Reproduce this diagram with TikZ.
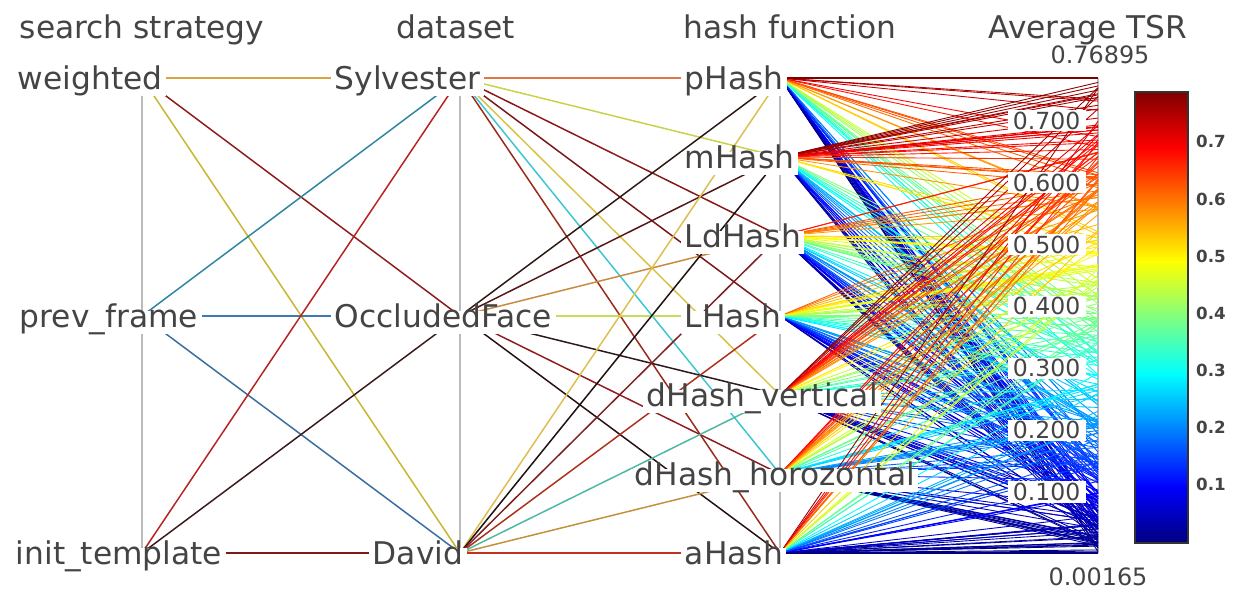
\documentclass[tikz,border=0pt]{standalone}
\usepackage{fontspec}
\setmainfont{DejaVu Sans}
\usetikzlibrary{calc}

\definecolor{txt}{HTML}{444444}
\definecolor{axgray}{HTML}{BBBBBB}
% search strategy -> dataset
\definecolor{wsy}{HTML}{D8A540}
\definecolor{wof}{HTML}{8E1C1C}
\definecolor{wdv}{HTML}{C9B52E}
\definecolor{psy}{HTML}{2E86A0}
\definecolor{pof}{HTML}{3D7BB5}
\definecolor{pdv}{HTML}{3A6E9E}
\definecolor{isy}{HTML}{B82222}
\definecolor{iof}{HTML}{3A1C1C}
\definecolor{idv}{HTML}{7F1818}
\definecolor{jtop}{rgb}{0.5,0,0}
\definecolor{jbot}{rgb}{0,0,0.5}

% value -> jet colour, stored as lncol
\newcommand{\jetcol}[1]{%
  \pgfmathsetmacro\jt{(#1-0.00165)/0.7673}%
  \pgfmathsetmacro\jr{max(0,min(1,1.5-abs(4*\jt-3)))}%
  \pgfmathsetmacro\jg{max(0,min(1,1.5-abs(4*\jt-2)))}%
  \pgfmathsetmacro\jb{max(0,min(1,1.5-abs(4*\jt-1)))}%
  \definecolor{lncol}{rgb}{\jr,\jg,\jb}}

\pgfdeclareverticalshading{jetbar}{100bp}{rgb(0bp)=(0,0,0.5); rgb(25bp)=(0,0,0.5);
  rgb(31.25bp)=(0,0,1); rgb(43.75bp)=(0,1,1); rgb(56.25bp)=(1,1,0);
  rgb(68.75bp)=(1,0,0); rgb(75bp)=(0.5,0,0); rgb(100bp)=(0.5,0,0)}

\begin{document}
\begin{tikzpicture}[x=0.02cm, y=-0.02cm,
    lbl/.style={anchor=base west, fill=white, inner xsep=2pt, inner ysep=1.5pt,
      text height=0.76em, text depth=0.24em, text=txt, font=\fontsize{17.8}{20}\selectfont},
    ttl/.style={anchor=base, text=txt, font=\fontsize{17.8}{20}\selectfont},
    tick/.style={anchor=east, fill=white, inner xsep=2pt, inner ysep=1pt, text=txt,
      font=\fontsize{13.4}{15}\selectfont},
    rng/.style={anchor=base, text=txt, font=\fontsize{13.6}{15}\selectfont},
    cbtick/.style={anchor=west, text=txt, font=\fontsize{9.5}{11}\selectfont\bfseries},
    link/.style={line width=0.85pt},
    fan/.style={line width=0.5pt},
    axisline/.style={axgray, line width=1pt}]
  \useasboundingbox (0,0) rectangle (1239,592);

  % axis points
  \coordinate (ws) at (142,78);
  \coordinate (pf) at (142,316);
  \coordinate (it) at (142,553);
  \coordinate (sy) at (460,78);
  \coordinate (of) at (460,316);
  \coordinate (dv) at (460,553);
  \foreach \i/\y in {1/78,2/157,3/236,4/316,5/395,6/474,7/553}
    \coordinate (h\i) at (780,\y);
  \coordinate (tmax) at (1098,78);
  \coordinate (tmin) at (1098,553);

  \draw[axisline] (ws) -- (it);
  \draw[axisline] (sy) -- (dv);
  \draw[axisline] (h1) -- (h7);
  \draw[axisline] (tmax) -- (tmin);

  % search strategy -> dataset
  \draw[link, wsy] (ws) -- (sy);
  \draw[link, wof] (ws) -- (of);
  \draw[link, wdv] (ws) -- (dv);
  \draw[link, psy] (pf) -- (sy);
  \draw[link, pof] (pf) -- (of);
  \draw[link, pdv] (pf) -- (dv);
  \draw[link, isy] (it) -- (sy);
  \draw[link, iof] (it) -- (of);
  \draw[link, idv] (it) -- (dv);

  % dataset -> hash function
  \foreach \a/\b/\c in {sy/h1/E07545, sy/h2/C8D24A, sy/h3/8A1A1A, sy/h4/7A1818,
      sy/h5/D6C444, sy/h6/3CC6D2, sy/h7/9A2A1A,
      of/h1/2E1A14, of/h2/561818, of/h3/C98A42, of/h4/C9DC5A,
      of/h5/2C1A1A, of/h6/8E1E22, of/h7/281212,
      dv/h1/DDBE4E, dv/h2/201010, dv/h3/7E2020, dv/h4/B0301E,
      dv/h5/4FB8A2, dv/h6/C4903E, dv/h7/C23222} {
    \definecolor{lk}{HTML}{\c}
    \draw[link, lk] (\a) -- (\b);
  }

  % hash function -> Average TSR (quartiles of each fan)
  \pgfmathsetseed{17}
  \foreach \h/\qa/\qb/\qc/\qd/\qe in {h1/0.0/0.12/0.30/0.50/0.768,
      h2/0.0/0.30/0.48/0.64/0.768, h3/0.02/0.12/0.28/0.45/0.65,
      h4/0.02/0.10/0.25/0.42/0.60, h5/0.0/0.08/0.22/0.42/0.768,
      h6/0.0/0.08/0.22/0.38/0.72, h7/0.0/0.05/0.20/0.40/0.768} {
    \foreach \k in {1,...,50} {
      \pgfmathsetmacro\u{4*rnd}
      \pgfmathsetmacro\v{\qa+(\qb-\qa)*max(0,min(1,\u))+(\qc-\qb)*max(0,min(1,\u-1))
        +(\qd-\qc)*max(0,min(1,\u-2))+(\qe-\qd)*max(0,min(1,\u-3))}
      \jetcol{\v}
      \pgfmathsetmacro\ty{553-(\v-0.00165)*475/0.7673}
      \coordinate (e) at (1098,\ty);
      \draw[fan, lncol] (\h) -- (e);
    }
  }
  \draw[link, jtop] (h1) -- (tmax);
  \draw[link, jbot] (h7) -- (tmin);

  % labels
  \node[lbl] (weighted) at (14,89) {weighted};
  \node[lbl] (prevframe) at (16,327) {prev\_frame};
  \node[lbl] (inittemplate) at (12,564) {init\_template};
  \node[lbl] (sylvester) at (331,89) {Sylvester};
  \node[lbl] (occluded) at (331,327) {OccludedFace};
  \node[lbl] (david) at (369,564) {David};
  \node[lbl] (phash) at (681,89) {pHash};
  \node[lbl] (mhash) at (681,168) {mHash};
  \node[lbl] (ldhash) at (681,247) {LdHash};
  \node[lbl] (lhash) at (681,327) {LHash};
  \node[lbl] (dhv) at (643,406) {dHash\_vertical};
  \node[lbl] (dhh) at (631,485) {dHash\_horozontal};
  \node[lbl] (ahash) at (681,564) {aHash};

  \foreach \t in {0.700,0.600,0.500,0.400,0.300,0.200,0.100} {
    \pgfmathsetmacro\ty{553-(\t-0.00165)*475/0.7673}
    \node[tick, inner xsep=3pt] (t\t) at (1086,\ty) {\t};
  }

  % titles
  \node[ttl] (tstrat) at (142,38) {search strategy};
  \node[ttl] (tdata) at (456,38) {dataset};
  \node[ttl] (thash) at (790,38) {hash function};
  \node[ttl] (ttsr) at (1088,38) {Average TSR};
  \node[rng] (vmax) at (1100,63) {0.76895};
  \node[rng] (vmin) at (1098,585) {0.00165};

  % colour bar
  \shade[shading=jetbar] (1135,92) rectangle (1188,543);
  \draw[black!80, line width=0.6pt] (1135,92) rectangle (1188,543);
  \foreach \c in {1,...,7}
    \node[cbtick] (cb\c) at (1190,542-57.17*\c) {0.\c};
\end{tikzpicture}
\end{document}
